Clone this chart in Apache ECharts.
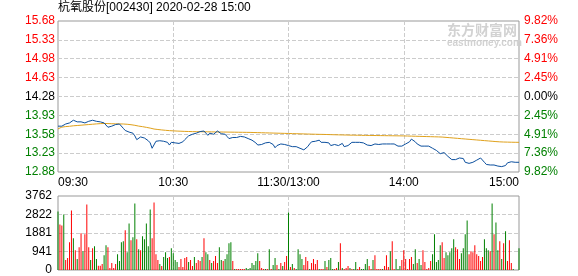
<!DOCTYPE html>
<html><head><meta charset="utf-8">
<script src="https://cdn.jsdelivr.net/npm/echarts@6/dist/echarts.min.js"></script>
<style>html,body{margin:0;padding:0;background:#fff}#c{width:578px;height:276px}</style>
</head><body><div id="c"></div>
<script>
const titleText = '杭氧股份[002430] 2020-02-28 15:00';
const priceTicks = ['12.88','13.23','13.58','13.93','14.28','14.63','14.98','15.33','15.68'];
const pctTicks = ['9.82%','7.36%','4.91%','2.45%','0.00%','2.45%','4.91%','7.36%','9.82%'];
const volTicks = ['0','941','1881','2822','3762'];
const timeLabels = {0:'09:30',60:'10:30',120:'11:30/13:00',180:'14:00',240:'15:00'};

const prices = [
13.73,13.71,13.73,13.76,13.77,13.78,13.79,13.82,13.84,13.83,
13.81,13.81,13.81,13.81,13.79,13.79,13.82,13.84,13.84,13.84,
13.82,13.80,13.81,13.79,13.79,13.76,13.71,13.71,13.73,13.74,
13.76,13.79,13.77,13.74,13.69,13.65,13.64,13.62,13.60,13.60,
13.55,13.48,13.51,13.53,13.54,13.51,13.48,13.46,13.42,13.32,
13.33,13.45,13.46,13.46,13.44,13.45,13.47,13.43,13.38,13.43,
13.43,13.42,13.40,13.41,13.41,13.44,13.48,13.51,13.55,13.52,
13.58,13.60,13.60,13.61,13.63,13.64,13.64,13.64,13.56,13.60,
13.57,13.58,13.60,13.64,13.62,13.59,13.61,13.58,13.54,13.50,
13.48,13.52,13.55,13.52,13.53,13.54,13.54,13.53,13.51,13.50,
13.49,13.47,13.45,13.42,13.38,13.38,13.39,13.40,13.42,13.43,
13.43,13.42,13.39,13.33,13.37,13.39,13.40,13.39,13.39,13.40,
13.37,13.36,13.35,13.36,13.35,13.33,13.32,13.30,13.29,13.30,
13.35,13.40,13.44,13.45,13.45,13.46,13.47,13.43,13.44,13.43,
13.44,13.42,13.37,13.37,13.39,13.40,13.37,13.38,13.41,13.35,
13.33,13.37,13.40,13.43,13.43,13.43,13.43,13.43,13.42,13.42,
13.40,13.38,13.38,13.37,13.36,13.40,13.38,13.39,13.40,13.40,
13.40,13.40,13.40,13.40,13.41,13.40,13.38,13.36,13.35,13.36,
13.39,13.40,13.40,13.44,13.49,13.48,13.44,13.40,13.38,13.36,
13.36,13.36,13.36,13.36,13.35,13.32,13.30,13.28,13.25,13.22,
13.25,13.24,13.22,13.17,13.14,13.11,13.10,13.11,13.12,13.14,
13.16,13.13,13.06,13.04,13.04,13.04,13.06,13.07,13.10,13.12,
13.14,13.11,13.06,13.02,13.01,13.01,13.01,13.01,13.00,12.99,
13.01,12.98,12.97,13.00,13.05,13.07,13.07,13.07,13.06,13.06,13.06
];

const avgPrices = [
13.680,13.700,13.712,13.718,13.722,13.725,13.728,13.733,13.737,13.740,
13.742,13.745,13.748,13.751,13.754,13.757,13.760,13.763,13.766,13.769,
13.772,13.775,13.777,13.779,13.780,13.780,13.778,13.776,13.775,13.774,
13.773,13.773,13.772,13.772,13.770,13.768,13.765,13.762,13.757,13.752,
13.746,13.738,13.731,13.726,13.721,13.715,13.708,13.701,13.694,13.684,
13.677,13.672,13.668,13.664,13.660,13.656,13.653,13.650,13.647,13.645,
13.643,13.641,13.639,13.637,13.636,13.634,13.633,13.632,13.631,13.630,
13.629,13.628,13.628,13.627,13.627,13.626,13.626,13.625,13.625,13.624,
13.624,13.623,13.623,13.622,13.622,13.621,13.621,13.620,13.620,13.619,
13.619,13.618,13.618,13.617,13.617,13.616,13.616,13.615,13.615,13.614,
13.614,13.613,13.612,13.611,13.610,13.609,13.608,13.607,13.606,13.605,
13.604,13.603,13.602,13.601,13.600,13.599,13.598,13.597,13.596,13.595,
13.594,13.593,13.592,13.591,13.590,13.589,13.588,13.587,13.586,13.585,
13.584,13.583,13.582,13.581,13.580,13.579,13.578,13.577,13.577,13.576,
13.575,13.574,13.573,13.572,13.571,13.570,13.569,13.568,13.567,13.566,
13.566,13.565,13.564,13.564,13.563,13.562,13.562,13.561,13.560,13.560,
13.559,13.559,13.558,13.558,13.557,13.557,13.556,13.556,13.555,13.555,
13.554,13.554,13.553,13.553,13.552,13.552,13.551,13.551,13.550,13.550,
13.549,13.548,13.547,13.546,13.545,13.544,13.543,13.542,13.541,13.540,
13.539,13.538,13.537,13.536,13.535,13.534,13.533,13.532,13.531,13.530,
13.528,13.525,13.522,13.519,13.516,13.513,13.510,13.507,13.504,13.501,
13.498,13.495,13.492,13.489,13.486,13.483,13.480,13.477,13.474,13.471,
13.468,13.465,13.462,13.459,13.456,13.453,13.450,13.447,13.444,13.441,
13.439,13.437,13.436,13.435,13.434,13.433,13.432,13.432,13.431,13.431,13.430
];

const volumes = [
2974,2318,2268,2822,504,605,1411,3024,1613,1008,
554,1159,1865,958,1814,3326,1159,504,1109,1210,
554,218,218,302,756,1260,1159,101,353,101,
302,806,454,1411,1462,2016,907,2369,1512,1663,
3377,1562,1058,1008,1714,1562,2369,1210,3074,1613,
3427,806,504,302,202,655,907,605,655,1109,
857,504,403,151,554,151,605,655,403,504,
202,655,353,504,454,655,1613,907,806,504,
353,454,706,353,1159,504,454,554,806,1361,
1411,454,50,50,50,50,50,50,101,50,
101,353,252,454,857,454,101,50,50,50,
1058,50,252,605,252,50,353,202,403,706,
2923,151,302,101,50,1058,806,554,252,655,
454,50,353,554,302,504,50,50,50,454,
151,504,605,50,50,101,403,1361,101,50,
101,202,101,50,50,403,50,151,50,50,
302,554,202,50,504,756,50,50,50,50,
202,756,151,958,1462,50,554,50,202,504,
1008,554,50,554,655,302,1058,353,554,252,
1008,403,50,101,454,806,1814,403,504,1260,
1411,605,907,756,907,1109,1562,1159,1058,554,
857,1109,1814,2520,806,958,907,1260,806,706,
454,655,1562,1109,1008,958,3377,1814,2419,1008,
1462,554,1361,1966,454,1512,353,50,0,0,1109
];

const volDir = [
-1,1,1,-1,1,1,1,1,-1,1,
-1,1,1,-1,1,1,1,-1,1,-1,
-1,1,1,1,-1,-1,1,1,1,1,
1,-1,-1,-1,-1,1,-1,-1,1,-1,
-1,1,-1,1,-1,-1,-1,-1,-1,1,
1,1,1,-1,1,-1,-1,-1,1,-1,
-1,-1,-1,1,1,1,1,1,-1,1,
1,-1,1,1,1,-1,1,-1,-1,1,
-1,1,1,1,-1,-1,1,-1,-1,-1,
-1,1,-1,1,1,1,1,1,-1,-1,
-1,-1,-1,-1,-1,1,1,1,-1,1,
-1,1,-1,-1,1,-1,1,-1,1,1,
-1,1,-1,1,-1,-1,-1,-1,1,1,
1,-1,1,1,1,1,-1,1,1,-1,
1,-1,-1,-1,1,1,-1,1,-1,1,
1,1,-1,1,-1,-1,1,1,-1,-1,
-1,-1,1,1,-1,1,1,1,1,-1,
1,1,1,-1,1,1,-1,-1,-1,1,
1,1,1,1,1,-1,-1,1,-1,-1,
1,1,1,1,1,-1,-1,-1,-1,-1,
1,1,-1,-1,-1,-1,-1,1,1,1,
-1,-1,-1,-1,1,1,1,1,1,1,
1,1,-1,-1,-1,1,-1,1,-1,-1,
1,-1,1,-1,1,1,1,-1,-1,-1,-1
];

const categories = [];
for (let i = 0; i <= 240; i++) {
  const base = i <= 120 ? 9 * 60 + 30 + i : 13 * 60 + (i - 120);
  const h = Math.floor(base / 60), m = base % 60;
  categories.push(String(h).padStart(2, '0') + ':' + String(m).padStart(2, '0'));
}

const RED = '#ff0000', GREEN = '#008000', BLACK = '#000000';
const FONT = '"Liberation Sans", Arial, sans-serif';
const tickIdx = v => Math.round((parseFloat(v) - 12.88) / 0.35);
const tickColor = v => { const i = tickIdx(v); return i > 4 ? RED : (i === 4 ? BLACK : GREEN); };
const dashed = { color: '#cccccc', type: [4, 2], width: 1 };
const vlines = i => i === 60 || i === 120 || i === 180;

const chart = echarts.init(document.getElementById('c'), null, { renderer: 'canvas' });
chart.setOption({
  animation: false,
  backgroundColor: '#ffffff',
  title: {
    text: titleText, left: 58, top: 2, padding: 0,
    textStyle: { fontSize: 12, fontWeight: 'normal', color: '#000', fontFamily: '"Liberation Sans", "Noto Sans CJK SC", sans-serif' }
  },
  graphic: [
    { type: 'text', left: 447, top: 23, z: 0, style: { text: '东方财富网', font: 'bold 14px "Noto Sans CJK SC"', fill: '#d2d2d2' } },
    { type: 'text', left: 447, top: 38, z: 0, style: { text: 'eastmoney.com', font: 'bold 10px "Liberation Sans"', fill: '#d2d2d2' } }
  ],
  grid: [
    { left: 58, top: 21, width: 461, height: 151, show: true, borderColor: '#999', borderWidth: 1, backgroundColor: 'transparent' },
    { left: 58, top: 196, width: 461, height: 74, show: true, borderColor: '#999', borderWidth: 1, backgroundColor: 'transparent' }
  ],
  xAxis: [
    {
      gridIndex: 0, type: 'category', data: categories, boundaryGap: false,
      axisLine: { show: false }, axisTick: { show: false },
      axisLabel: {
        interval: i => timeLabels[i] !== undefined,
        formatter: (v, i) => timeLabels[i] || '',
        margin: 5, fontSize: 12, color: '#000', fontFamily: FONT,
        alignMinLabel: 'left', alignMaxLabel: 'right', showMinLabel: true, showMaxLabel: true
      },
      splitLine: { show: true, interval: vlines, lineStyle: dashed }
    },
    {
      gridIndex: 1, type: 'category', data: categories, boundaryGap: false,
      axisLine: { show: false }, axisTick: { show: false }, axisLabel: { show: false },
      splitLine: { show: true, interval: vlines, lineStyle: dashed }
    }
  ],
  yAxis: [
    {
      gridIndex: 0, type: 'value', position: 'left', min: 12.88, max: 15.68, interval: 0.35,
      axisLine: { show: false }, axisTick: { show: false },
      axisLabel: { margin: 3, fontSize: 12, fontFamily: FONT, formatter: v => priceTicks[tickIdx(v)], color: v => tickColor(v) },
      splitLine: { show: true, showMinLine: false, showMaxLine: false, lineStyle: dashed }
    },
    {
      gridIndex: 0, type: 'value', position: 'right', min: 12.88, max: 15.68, interval: 0.35,
      axisLine: { show: false }, axisTick: { show: false },
      axisLabel: { margin: 5, fontSize: 12, fontFamily: FONT, formatter: v => pctTicks[8 - tickIdx(v)] === undefined ? '' : pctTicks[8 - tickIdx(v)], color: v => tickColor(v) },
      splitLine: { show: false }
    },
    {
      gridIndex: 1, type: 'value', position: 'left', min: 0, max: 3762, interval: 940.5,
      axisLine: { show: false }, axisTick: { show: false },
      axisLabel: { margin: 6, fontSize: 12, fontFamily: FONT, color: '#000', formatter: v => volTicks[Math.round(v / 940.5)] },
      splitLine: { show: true, showMinLine: false, showMaxLine: false, lineStyle: dashed }
    }
  ],
  series: [
    {
      type: 'line', xAxisIndex: 0, yAxisIndex: 0, data: avgPrices, symbol: 'none', z: 3,
      lineStyle: { color: '#e0a11b', width: 1 }
    },
    {
      type: 'line', xAxisIndex: 0, yAxisIndex: 0, data: prices, symbol: 'none', z: 4,
      lineStyle: { color: '#0b4f9e', width: 1 }
    },
    {
      type: 'bar', xAxisIndex: 1, yAxisIndex: 2, barWidth: 1,
      data: volumes.map((v, i) => ({ value: v, itemStyle: { color: volDir[i] > 0 ? RED : GREEN } }))
    }
  ]
});
</script>
</body></html>
